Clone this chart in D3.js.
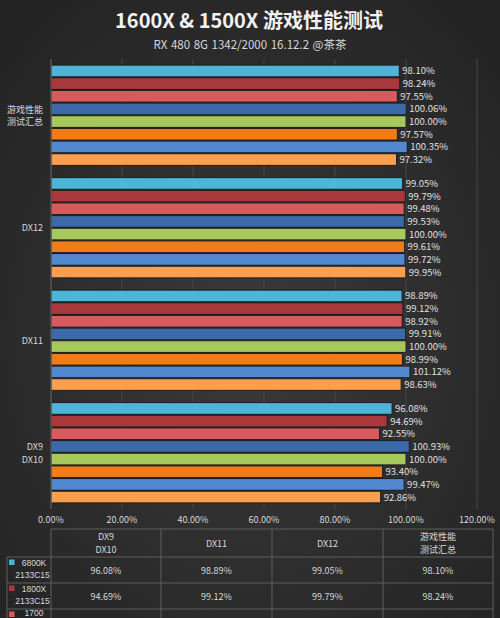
<!DOCTYPE html>
<html>
<head>
<meta charset="utf-8">
<script src="https://cdn.jsdelivr.net/npm/d3@7"></script>
<style>
html,body{margin:0;padding:0;background:#2c2c2c;overflow:hidden;}
svg{display:block;}
text{font-family:"Noto Sans CJK SC","Noto Sans",sans-serif;}
text.rowlab{font-family:"Liberation Sans","Noto Sans",sans-serif;}
</style>
</head>
<body>
<svg id="chart" width="500" height="618"></svg>
<script>
// ---- data ----
const categories = ["DX9\nDX10", "DX11", "DX12", "游戏性能\n测试汇总"];
const seriesNames = ["6800K\n2133C15", "1800X\n2133C15", "1700\n2133C15", "1800X\n2933C14", "1800X\n3200C14", "1600X\n2133C15", "1600X\n2933C14", "1500X\n2133C15"];
const seriesColors = ["#4db6d8", "#a8383c", "#d85a5c", "#3c6aa8", "#a6c85c", "#f07c18", "#5288d0", "#f9a050"];
const s1 = [96.08, 98.89, 99.05, 98.10];
const s2 = [94.69, 99.12, 99.79, 98.24];
const s3 = [92.55, 98.92, 99.48, 97.55];
const s4 = [100.93, 99.91, 99.53, 100.06];
const s5 = [100.00, 100.00, 100.00, 100.00];
const s6 = [93.40, 98.99, 99.61, 97.57];
const s7 = [99.47, 101.12, 99.72, 100.35];
const s8 = [92.86, 98.63, 99.95, 97.32];
const seriesValues = [s1, s2, s3, s4, s5, s6, s7, s8];
const xTicks = [0, 20, 40, 60, 80, 100, 120];
const titleText = "1600X & 1500X 游戏性能测试";
const subtitleText = "RX 480 8G 1342/2000  16.12.2  @茶茶";

const svg = d3.select("#chart");
const W = 500, H = 618;

// background
const defs = svg.append("defs");
const rg = defs.append("radialGradient").attr("id","bg").attr("cx","50%").attr("cy","55%").attr("r","70%");
rg.append("stop").attr("offset","0%").attr("stop-color","#3a3a3a");
rg.append("stop").attr("offset","100%").attr("stop-color","#232323");
svg.append("rect").attr("width",W).attr("height",H).attr("fill","url(#bg)");

// titles
svg.append("text").attr("x",249).attr("y",28).attr("text-anchor","middle")
  .attr("fill","#f2f2f2").attr("font-size",20).attr("font-weight","bold").text(titleText);
svg.append("text").attr("x",250).attr("y",49).attr("text-anchor","middle")
  .attr("fill","#d8d8d8").attr("font-size",11.5).attr("word-spacing",1).text(subtitleText);

// scales
const x = d3.scaleLinear().domain([0,120]).range([51,477]);
const yCat = d3.scaleBand().domain(categories.slice().reverse()).range([59,509]).paddingInner(0.1).paddingOuter(0.05);
const ySer = d3.scaleBand().domain(d3.range(seriesNames.length)).range([0,yCat.bandwidth()]).padding(0);

// gridlines
svg.append("g").selectAll("line").data(xTicks.slice(1)).join("line")
  .attr("x1",d=>x(d)).attr("x2",d=>x(d)).attr("y1",59).attr("y2",509)
  .attr("stroke","#474747").attr("stroke-width",1);

// bars
const groups = svg.append("g").selectAll("g").data(categories).join("g")
  .attr("transform",c=>`translate(0,${yCat(c)})`);
groups.each(function(c, ci){
  const g = d3.select(this);
  const rows = seriesValues.map((vals,si)=>({si, v: vals[ci]}));
  g.selectAll("rect").data(rows).join("rect")
    .attr("x",x(0)).attr("y",d=>ySer(d.si)+0.5)
    .attr("width",d=>x(d.v)-x(0)).attr("height",ySer.bandwidth()-1)
    .attr("fill",d=>seriesColors[d.si]).attr("stroke","#1e1e1e").attr("stroke-width",1);
  g.selectAll("text").data(rows).join("text")
    .attr("x",d=>x(d.v)+3).attr("y",d=>ySer(d.si)+ySer.bandwidth()/2+3.5)
    .attr("fill","#e0e0e0").attr("font-size",9.5).text(d=>d.v.toFixed(2)+"%");
});

// axis line
svg.append("line").attr("x1",51).attr("x2",51).attr("y1",59).attr("y2",509).attr("stroke","#6a6a6a");

// category labels
categories.forEach(c=>{
  const lines = c.split("\n");
  const cy = yCat(c)+yCat.bandwidth()/2;
  const t = svg.append("text").attr("text-anchor","end").attr("fill","#d8d8d8").attr("font-size",9);
  lines.forEach((l,i)=>{
    t.append("tspan").attr("x",43).attr("y",cy+3.5+(i-(lines.length-1)/2)*12.5).text(l);
  });
});

// x axis tick labels
svg.append("g").selectAll("text").data(xTicks).join("text")
  .attr("x",d=>x(d)).attr("y",523).attr("text-anchor","middle")
  .attr("fill","#d8d8d8").attr("font-size",9).text(d=>d.toFixed(2)+"%");

// data table
const colEdges = [51,161,272,383,493];
const rowEdges = [529,557,583,609,635];
const tbl = svg.append("g");
const lineColor = "#5e5e5e";
rowEdges.forEach((yy,i)=>{
  tbl.append("line").attr("x1", i===0?51:7).attr("x2",493).attr("y1",yy).attr("y2",yy).attr("stroke",lineColor);
});
colEdges.forEach(xx=>{
  tbl.append("line").attr("x1",xx).attr("x2",xx).attr("y1",529).attr("y2",H).attr("stroke",lineColor);
});
tbl.append("line").attr("x1",7).attr("x2",7).attr("y1",557).attr("y2",H).attr("stroke",lineColor);

// header
categories.forEach((c,ci)=>{
  const lines = c.split("\n");
  const cx = (colEdges[ci]+colEdges[ci+1])/2;
  const cy = (rowEdges[0]+rowEdges[1])/2;
  const t = tbl.append("text").attr("text-anchor","middle").attr("fill","#d8d8d8").attr("font-size",9);
  lines.forEach((l,i)=>{
    t.append("tspan").attr("x",cx).attr("y",cy+3.5+(i-(lines.length-1)/2)*13).text(l);
  });
});
// rows (only the visible part of the table)
seriesNames.forEach((name,si)=>{
  if (si>2) return;
  const top = rowEdges[si+1], bot = rowEdges[si+2];
  const cy = (top+bot)/2;
  tbl.append("rect").attr("x",9).attr("y",top+2.5).attr("width",5.5).attr("height",5.5)
    .attr("fill",seriesColors[si]);
  const lines = name.split("\n");
  if (si===2) {
    tbl.append("text").attr("class","rowlab").attr("x",34).attr("y",615.5).attr("text-anchor","middle")
      .attr("fill","#d8d8d8").attr("font-size",8.5).text(lines[0]);
    return;
  }
  const t = tbl.append("text").attr("class","rowlab").attr("text-anchor","middle").attr("fill","#d8d8d8").attr("font-size",8.5);
  lines.forEach((l,i)=>{
    t.append("tspan").attr("x",i===0?34:32.5).attr("y",top+8.5+i*12.5).text(l);
  });
  seriesValues[si].forEach((v,ci)=>{
    const cx = (colEdges[ci]+colEdges[ci+1])/2;
    tbl.append("text").attr("x",cx).attr("y",cy+3.5).attr("text-anchor","middle")
      .attr("fill","#d8d8d8").attr("font-size",9).text(v.toFixed(2)+"%");
  });
});
</script>
</body>
</html>
